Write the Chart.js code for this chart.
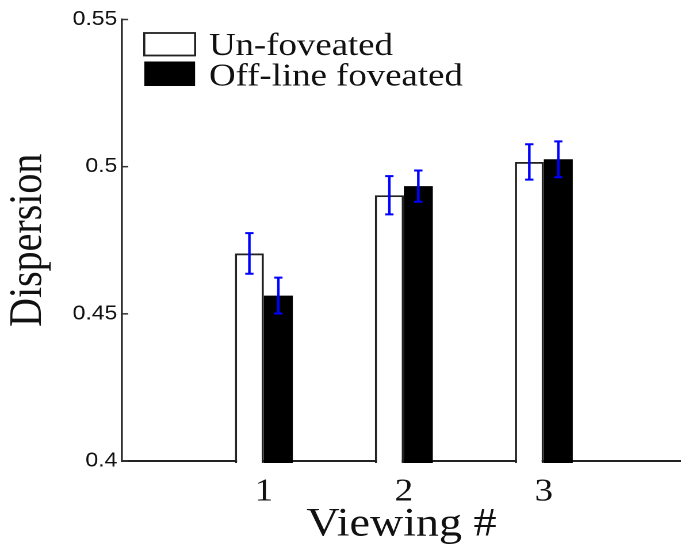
<!DOCTYPE html>
<html><head><meta charset="utf-8">
<script src="https://cdn.jsdelivr.net/npm/chart.js@4.4.1/dist/chart.umd.min.js"></script>
<style>
html,body{margin:0;padding:0;background:#fff;overflow:hidden;width:681px;height:548px;}
#wrap{width:592px;height:548px;transform:scaleX(1.1503);transform-origin:0 0;}
canvas{display:block;}
</style></head><body>
<div id="wrap"><canvas id="c" width="592" height="548"></canvas></div>
<script>
// ---- data ----
const categories = [1, 2, 3];
const xTickLabels = ['1', '2', '3'];
const seriesNames = ['Un-foveated', 'Off-line foveated'];
const unfoveated = [0.4705, 0.4903, 0.5016];
const unfoveatedErr = [0.0069, 0.0065, 0.0060];
const offline = [0.4562, 0.4934, 0.5025];
const offlineErr = [0.0061, 0.0053, 0.0061];
const yTicks = [0.4, 0.45, 0.5, 0.55];
const yTickLabels = ['0.4', '0.45', '0.5', '0.55'];
const xTitle = 'Viewing #';
const yTitle = 'Dispersion';

const errs = [unfoveatedErr, offlineErr];

const errorBars = {
  id: 'errorBars',
  afterDatasetsDraw(chart) {
    const ctx = chart.ctx, y = chart.scales.y;
    ctx.save();
    ctx.strokeStyle = '#0000ff';
    chart.data.datasets.forEach((ds, di) => {
      const meta = chart.getDatasetMeta(di);
      meta.data.forEach((el, i) => {
        const v = ds.data[i].y, e = errs[di][i];
        const yt = y.getPixelForValue(v + e), yb = y.getPixelForValue(v - e);
        const x = el.x, hw = 3.6;
        ctx.lineWidth = 2.2;
        ctx.beginPath(); ctx.moveTo(x, yt); ctx.lineTo(x, yb); ctx.stroke();
        ctx.lineWidth = 2;
        ctx.beginPath();
        ctx.moveTo(x - hw, yt); ctx.lineTo(x + hw, yt);
        ctx.moveTo(x - hw, yb); ctx.lineTo(x + hw, yb);
        ctx.stroke();
      });
    });
    ctx.restore();
  }
};

const insideTicks = {
  id: 'insideTicks',
  afterDatasetsDraw(chart) {
    const ctx = chart.ctx, y = chart.scales.y, x0 = chart.chartArea.left;
    ctx.save();
    ctx.strokeStyle = '#333';
    ctx.lineWidth = 1.5;
    y.ticks.forEach(t => {
      const py = y.getPixelForValue(t.value);
      ctx.beginPath(); ctx.moveTo(x0, py); ctx.lineTo(x0 + 5.4, py); ctx.stroke();
    });
    ctx.restore();
  }
};

const legendPlugin = {
  id: 'manualLegend',
  afterDraw(chart) {
    const ctx = chart.ctx;
    const rows = [{top: 33, h: 22.5, base: 55}, {top: 61.5, h: 24.5, base: 85.5}];
    const bx = 125.4, bw = 44.2, tx = 181.7;
    ctx.save();
    ctx.font = '32px "Liberation Serif"';
    ctx.textBaseline = 'alphabetic';
    ctx.textAlign = 'left';
    chart.data.datasets.forEach((ds, i) => {
      const r = rows[i];
      ctx.fillStyle = ds.backgroundColor;
      ctx.fillRect(bx, r.top, bw, r.h);
      if (ds.borderWidth) {
        ctx.strokeStyle = ds.borderColor;
        ctx.lineWidth = 1.8;
        ctx.strokeRect(bx, r.top, bw, r.h);
      }
      ctx.fillStyle = '#111';
      ctx.fillText(ds.label, tx, r.base);
    });
    ctx.restore();
  }
};

new Chart(document.getElementById('c'), {
  type: 'bar',
  data: {
    datasets: [
      {
        label: seriesNames[0],
        data: categories.map((c, i) => ({x: c, y: unfoveated[i]})),
        backgroundColor: '#ffffff',
        borderColor: '#222222',
        borderWidth: 1.9,
        base: 0.394,
        clip: {left: 0, top: 0, right: 0, bottom: 2},
        categoryPercentage: 0.414,
        barPercentage: 1.0
      },
      {
        label: seriesNames[1],
        data: categories.map((c, i) => ({x: c, y: offline[i]})),
        backgroundColor: '#000000',
        borderColor: '#000000',
        borderWidth: 0,
        base: 0.394,
        clip: {left: 0, top: 0, right: 0, bottom: 2},
        categoryPercentage: 0.414,
        barPercentage: 1.0
      }
    ]
  },
  options: {
    responsive: false,
    devicePixelRatio: 2,
    animation: false,
    events: [],
    layout: {padding: {top: 19.5, left: 0, right: 0, bottom: 0}},
    plugins: {legend: {display: false}, tooltip: {enabled: false}},
    scales: {
      x: {
        type: 'linear',
        offset: false,
        min: -0.014,
        max: 3.98,
        grid: {display: false, drawTicks: false},
        border: {display: true, color: '#222', width: 2},
        afterBuildTicks: s => { s.ticks = categories.map(v => ({value: v})); },
        afterFit: s => { s.height = 87; },
        ticks: {
          autoSkip: false,
          maxRotation: 0,
          padding: 15,
          color: '#111',
          font: {family: '"Liberation Serif"', size: 32, lineHeight: 1},
          callback: (v, i) => xTickLabels[i]
        },
        title: {
          display: true,
          text: xTitle,
          color: '#111',
          font: {family: '"Liberation Serif"', size: 40, lineHeight: 1},
          padding: {top: 0, bottom: 3}
        }
      },
      y: {
        min: 0.4,
        max: 0.55,
        grid: {display: false, drawTicks: false},
        border: {display: true, color: '#333', width: 1.8},
        afterBuildTicks: s => { s.ticks = yTicks.map(v => ({value: v})); },
        afterFit: s => { s.width = 106; },
        ticks: {
          padding: 4,
          color: '#111',
          font: {family: '"Liberation Sans"', size: 20},
          callback: (v, i) => yTickLabels[i]
        },
        title: {
          display: true,
          text: yTitle,
          color: '#111',
          font: {family: '"Liberation Serif"', size: 40, lineHeight: 1},
          padding: {top: 5, bottom: 0}
        }
      }
    }
  },
  plugins: [errorBars, insideTicks, legendPlugin]
});
</script>
</body></html>
